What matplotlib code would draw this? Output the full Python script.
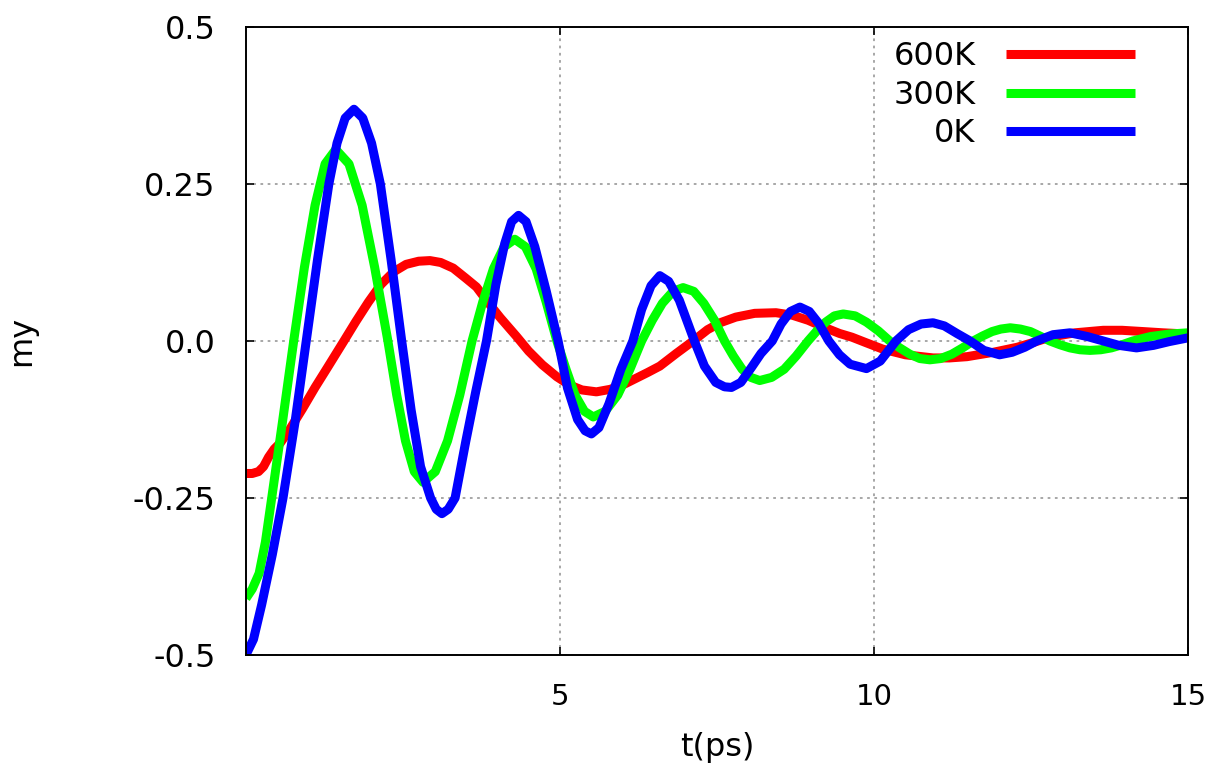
import matplotlib
matplotlib.use("Agg")
import matplotlib.pyplot as plt

# values (t in ps, my)
t_600 = [0, 0.1, 0.2, 0.28, 0.36, 0.45, 0.55, 0.69, 0.9, 1.1, 1.3, 1.56, 1.75, 1.95,
         2.15, 2.35, 2.55, 2.75, 2.93, 3.1, 3.3, 3.5, 3.67, 3.85, 4.05, 4.31, 4.5, 4.72,
         4.95, 5.15, 5.35, 5.58, 5.8, 6.0, 6.2, 6.4, 6.59, 6.85, 7.12, 7.35, 7.55, 7.8,
         8.1, 8.44, 8.7, 8.95, 9.2, 9.45, 9.65, 9.88, 10.14, 10.5, 10.94, 11.2, 11.48,
         11.9, 12.28, 12.55, 12.8, 13.2, 13.65, 13.95, 14.28, 14.6, 15]
my_600 = [-0.211, -0.211, -0.208, -0.2, -0.185, -0.172, -0.162, -0.142, -0.108, -0.074,
          -0.042, 0.0, 0.031, 0.062, 0.09, 0.11, 0.122, 0.127, 0.128, 0.125, 0.116, 0.1,
          0.086, 0.062, 0.037, 0.007, -0.016, -0.038, -0.057, -0.07, -0.078, -0.081,
          -0.077, -0.07, -0.06, -0.05, -0.04, -0.02, 0.0, 0.018, 0.029, 0.038, 0.044,
          0.045, 0.041, 0.033, 0.022, 0.012, 0.006, -0.003, -0.013, -0.022, -0.027,
          -0.027, -0.025, -0.018, -0.01, -0.002, 0.006, 0.013, 0.017, 0.017, 0.015,
          0.013, 0.011]

t_300 = [0, 0.1, 0.21, 0.31, 0.41, 0.58, 0.76, 0.93, 1.1, 1.26, 1.43, 1.64, 1.85, 2.05,
         2.26, 2.4, 2.54, 2.68, 2.82, 3.015, 3.21, 3.405, 3.6, 3.77, 3.94, 4.11, 4.28,
         4.45, 4.62, 4.78, 4.95, 5.1, 5.24, 5.39, 5.53, 5.72, 5.92, 6.11, 6.3, 6.47,
         6.63, 6.8, 6.96, 7.13, 7.29, 7.46, 7.62, 7.76, 7.9, 8.04, 8.18, 8.37, 8.57,
         8.76, 8.95, 9.09, 9.23, 9.37, 9.51, 9.7, 9.88, 10.07, 10.25, 10.41, 10.57,
         10.73, 10.89, 11.06, 11.24, 11.41, 11.58, 11.73, 11.88, 12.02, 12.17, 12.33,
         12.49, 12.64, 12.8, 12.96, 13.12, 13.28, 13.44, 13.61, 13.78, 13.95, 14.12,
         14.4, 14.7, 15]
my_300 = [-0.41, -0.395, -0.37, -0.32, -0.25, -0.13, 0.0, 0.117, 0.216, 0.282, 0.305,
          0.282, 0.216, 0.117, 0.0, -0.086, -0.159, -0.208, -0.225, -0.208, -0.159,
          -0.086, 0.0, 0.062, 0.115, 0.15, 0.162, 0.15, 0.115, 0.062, 0.0, -0.046,
          -0.086, -0.112, -0.121, -0.112, -0.086, -0.046, 0.0, 0.033, 0.06, 0.079,
          0.085, 0.079, 0.06, 0.033, 0.0, -0.024, -0.045, -0.058, -0.063, -0.058,
          -0.045, -0.024, 0.0, 0.016, 0.03, 0.04, 0.043, 0.04, 0.03, 0.016, 0.0, -0.011,
          -0.021, -0.028, -0.03, -0.028, -0.021, -0.011, 0.0, 0.008, 0.015, 0.019, 0.021,
          0.019, 0.015, 0.008, 0.0, -0.006, -0.011, -0.014, -0.015, -0.014, -0.011,
          -0.006, 0.0, 0.007, 0.011, 0.013]

t_0 = [0, 0.12, 0.25, 0.42, 0.59, 0.78, 0.96, 1.14, 1.32, 1.45, 1.58, 1.72, 1.86, 2.0,
       2.14, 2.31, 2.48, 2.63, 2.78, 2.94, 3.03, 3.12, 3.22, 3.33, 3.5, 3.66, 3.83, 3.98,
       4.12, 4.23, 4.34, 4.46, 4.6, 4.78, 4.97, 5.12, 5.28, 5.4, 5.5, 5.62, 5.78, 5.97,
       6.16, 6.3, 6.45, 6.59, 6.73, 6.9, 7.14, 7.3, 7.48, 7.62, 7.73, 7.88, 8.05, 8.2,
       8.38, 8.52, 8.67, 8.82, 8.97, 9.12, 9.28, 9.45, 9.62, 9.88, 10.1, 10.35, 10.55,
       10.75, 10.94, 11.12, 11.32, 11.53, 11.75, 12.0, 12.2, 12.4, 12.59, 12.85, 13.12,
       13.4, 13.65, 13.9, 14.18, 14.45, 14.7, 15]
my_0 = [-0.5, -0.475, -0.42, -0.34, -0.25, -0.13, 0.0, 0.13, 0.25, 0.315, 0.355, 0.369,
        0.355, 0.315, 0.25, 0.13, 0.0, -0.11, -0.2, -0.25, -0.268, -0.275, -0.268, -0.25,
        -0.16, -0.08, 0.0, 0.09, 0.155, 0.19, 0.2, 0.19, 0.15, 0.08, 0.0, -0.075, -0.125,
        -0.143, -0.148, -0.138, -0.1, -0.045, 0.0, 0.05, 0.088, 0.104, 0.095, 0.065, 0.0,
        -0.04, -0.066, -0.073, -0.074, -0.066, -0.042, -0.02, 0.0, 0.027, 0.047, 0.054,
        0.047, 0.028, 0.0, -0.022, -0.037, -0.044, -0.032, 0.0, 0.018, 0.027, 0.029,
        0.024, 0.012, 0.0, -0.015, -0.022, -0.018, -0.01, 0.0, 0.01, 0.013, 0.007, 0.0,
        -0.007, -0.011, -0.007, -0.001, 0.005]

labels = ["600K", "300K", "0K"]
colors = ["#ff0000", "#00ff00", "#0000ff"]
x_ticks = [5, 10, 15]
y_ticks = [-0.5, -0.25, 0.0, 0.25, 0.5]
y_ticklabels = ["-0.5", "-0.25", "0.0", "0.25", "0.5"]

plt.rcParams['font.family'] = ['DejaVu Sans']

fig = plt.figure(figsize=(12.14, 7.71), dpi=100)
ax = fig.add_axes([0.2026, 0.1505, 0.7760, 0.8145])

for t, v, lab, c in zip([t_600, t_300, t_0], [my_600, my_300, my_0], labels, colors):
    ax.plot(t, v, color=c, lw=6.5, label=lab, solid_capstyle='butt',
            solid_joinstyle='round')

ax.set_xlim(0, 15)
ax.set_ylim(-0.5, 0.5)
ax.set_xticks(x_ticks)
ax.set_yticks(y_ticks)
ax.set_yticklabels(y_ticklabels)
ax.grid(True, color='#a0a0a0', linestyle=(0, (1.5, 2.5)), lw=1.3)
ax.tick_params(direction='in', length=6, width=1.2, top=True, right=True, colors='black')
ax.tick_params(axis='y', pad=22, labelsize=23)
ax.tick_params(axis='x', pad=20, labelsize=21)
for s in ax.spines.values():
    s.set_linewidth(1.4)

ax.set_xlabel("t(ps)", fontsize=23, labelpad=15)
ax.set_ylabel("my", fontsize=23)
ax.yaxis.set_label_coords(-0.222, 0.5)

ax.legend(loc='upper right', bbox_to_anchor=(0.944, 0.977), frameon=False,
          markerfirst=False, fontsize=23, handlelength=4.06, handletextpad=0.94,
          labelspacing=0.23, borderpad=0, borderaxespad=0)

fig.savefig("out.png", dpi=100)
